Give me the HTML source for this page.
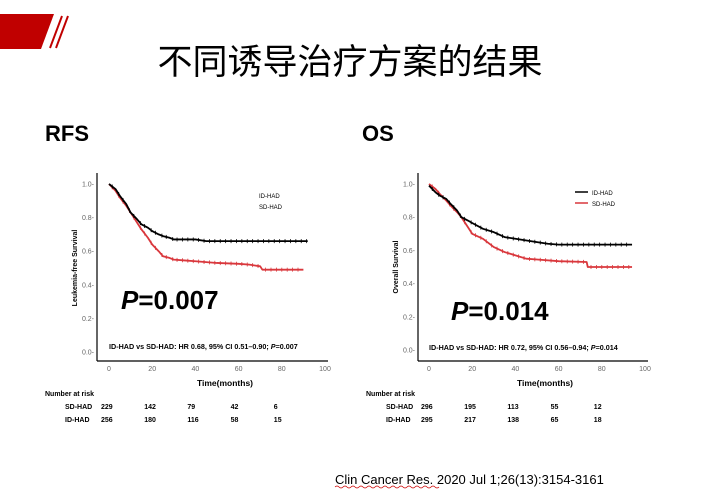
<!DOCTYPE html>
<html><head><meta charset="utf-8"><style>
html,body{margin:0;padding:0;background:#fff;}
svg{display:block;font-family:"Liberation Sans",Arial,sans-serif;}
</style></head><body>
<svg id="s" width="704" height="500" viewBox="0 0 704 500">
<polygon points="0,14 54,14 41,49 0,49" fill="#c00000"/>
<line x1="62" y1="16" x2="50" y2="48" stroke="#c00000" stroke-width="2"/>
<line x1="68" y1="16" x2="56" y2="48" stroke="#c00000" stroke-width="2"/>
<text x="350" y="74" text-anchor="middle" font-size="35" font-family="'Liberation Sans','Noto Sans CJK SC',sans-serif">不同诱导治疗方案的结果</text>
<text x="45" y="141" font-size="22" font-weight="bold">RFS</text>
<text x="362" y="141" font-size="22" font-weight="bold">OS</text>
<g id="g1"></g>
<g id="g2"></g>
<text x="335" y="484" font-size="13">Clin Cancer Res. 2020 Jul 1;26(13):3154-3161</text>
<path d="M335,487 q2,-2 4,0 t4,0 t4,0 t4,0 t4,0 t4,0 t4,0 t4,0 t4,0 t4,0 t4,0 t4,0 t4,0 t4,0 t4,0 t4,0 t4,0 t4,0 t4,0 t4,0 t4,0 t4,0 t4,0 t4,0 t4,0 t4,0" stroke="#c00" stroke-width="0.7" fill="none"/>
</svg>
<script>
const ticksX=[0,20,40,60,80,100];
const ticksY=[0,0.2,0.4,0.6,0.8,1.0];
const rfsIdT=[0,3,5,8,10,13,15,18,20,23,25,28,30,40,45,92];
const rfsIdV=[1.0,0.97,0.93,0.88,0.83,0.79,0.76,0.74,0.72,0.70,0.69,0.68,0.67,0.67,0.66,0.66];
const rfsSdT=[0,3,5,8,10,13,15,18,20,23,25,28,30,35,40,50,60,65,70,71,90];
const rfsSdV=[1.0,0.96,0.92,0.87,0.83,0.77,0.73,0.68,0.64,0.60,0.57,0.56,0.55,0.545,0.54,0.53,0.525,0.52,0.51,0.49,0.49];
const osIdT=[0,3,5,8,10,13,15,18,20,25,30,35,40,50,55,60,94];
const osIdV=[0.99,0.95,0.93,0.91,0.88,0.84,0.80,0.78,0.765,0.73,0.71,0.68,0.67,0.65,0.64,0.635,0.635];
const osSdT=[0,3,5,8,10,13,15,18,20,25,30,35,40,45,50,60,73,73.5,94];
const osSdV=[1.0,0.97,0.94,0.90,0.87,0.83,0.80,0.74,0.70,0.67,0.62,0.59,0.57,0.55,0.545,0.535,0.53,0.5,0.5];
const riskRfsSd=[229,142,79,42,6];
const riskRfsId=[256,180,116,58,15];
const riskOsSd=[296,195,113,55,12];
const riskOsId=[295,217,138,65,18];
const NS="http://www.w3.org/2000/svg";
function mk(g,tag,a,txt){const e=document.createElementNS(NS,tag);for(const k in a)e.setAttribute(k,a[k]);if(txt!==undefined)e.textContent=txt;g.appendChild(e);return e;}
function chart(gid,c){
 const g=document.getElementById(gid);
 const sx=t=>c.x0+t*(c.x100-c.x0)/100, sy=v=>c.y0-v*(c.y0-c.y1);
 let e=mk(g,'line',{x1:c.ax,y1:173,x2:c.ax,y2:c.axb,stroke:'#000','stroke-width':1.2});
 
 e=mk(g,'line',{x1:c.ax,y1:c.axb,x2:c.x100+3,y2:c.axb,stroke:'#000','stroke-width':1.2});
 
 ticksY.forEach(v=>{
  e=mk(g,'text',{x:c.ax-3,y:sy(v)+2.5,'font-size':7,fill:'#666','text-anchor':'end'},v.toFixed(1)+'-');
  
 });
 ticksX.forEach(t=>{
  e=mk(g,'text',{x:sx(t),y:c.axb+10,'font-size':7,fill:'#666','text-anchor':'middle'},String(t));
  
 });
 e=mk(g,'text',{x:0,y:0,'font-size':7,'font-weight':'bold','text-anchor':'middle',transform:`translate(${c.ax-20},${(c.y0+c.y1)/2}) rotate(-90)`},c.ylab);
 
 e=mk(g,'text',{x:(c.x0+c.x100)/2+8,y:c.axb+25,'font-size':8.5,'font-weight':'bold','text-anchor':'middle'},'Time(months)');
 
 function curve(T,V,col,nm){
  let d='M'+sx(T[0])+','+sy(V[0]);
  for(let i=1;i<T.length;i++){d+=' L'+sx(T[i])+','+sy(V[i]);}
  const p=mk(g,'path',{d:d,fill:'none',stroke:col,'stroke-width':1.8,'stroke-linejoin':'round'});
  
  for(let i=1;i<T.length;i++){const a=T[i-1],b=T[i];for(let t=a+1.5;t<b;t+=2.5){
   const v=V[i-1]+(V[i]-V[i-1])*(t-a)/(b-a);
   const k=mk(g,'line',{x1:sx(t),x2:sx(t),y1:sy(v)-2,y2:sy(v)+2,stroke:col,'stroke-width':0.8});
   }}
 }
 curve(c.sdT,c.sdV,'#d9373c','sd-had-curve');
 curve(c.idT,c.idV,'#000','id-had-curve');
 if(c.legLines){
  e=mk(g,'line',{x1:c.lx-17,x2:c.lx-4,y1:c.ly-3,y2:c.ly-3,stroke:'#000','stroke-width':1.5});
  e=mk(g,'line',{x1:c.lx-17,x2:c.lx-4,y1:c.ly+8,y2:c.ly+8,stroke:'#d9373c','stroke-width':1.5});
 }
 e=mk(g,'text',{x:c.lx,y:c.ly,'font-size':6},'ID-HAD');
 e=mk(g,'text',{x:c.lx,y:c.ly+11,'font-size':6},'SD-HAD');
 e=mk(g,'text',{x:c.px,y:c.py,'font-size':26,'font-weight':'bold'});
 e.innerHTML='<tspan font-style="italic">P</tspan>='+c.pv;
 
 e=mk(g,'text',{x:c.hx,y:c.hy,'font-size':7.2,'font-weight':'bold'});
 e.innerHTML=c.hr+'; <tspan font-style="italic">P</tspan>='+c.pv;
 
 e=mk(g,'text',{x:c.rx,y:396,'font-size':7,'font-weight':'bold'},'Number at risk');
 
 [['SD-HAD',c.rSd,409],['ID-HAD',c.rId,422]].forEach(([n,arr,y])=>{
  e=mk(g,'text',{x:c.rx+20,y:y,'font-size':7,'font-weight':'bold'},n);
  
  arr.forEach((v,i)=>{e=mk(g,'text',{x:sx(i*20)-8,y:y,'font-size':7,'font-weight':'bold'},String(v));
   });
 });
}
chart('g1',{ax:97,axb:361,x0:109,x100:325,y0:352,y1:184,ylab:'Leukemia-free Survival',
 idT:rfsIdT,idV:rfsIdV,sdT:rfsSdT,sdV:rfsSdV,lx:259,ly:198,legLines:false,
 px:121,py:309,pv:'0.007',hx:109,hy:349,hr:'ID-HAD vs SD-HAD: HR 0.68, 95% CI 0.51–0.90',
 rx:45,rSd:riskRfsSd,rId:riskRfsId});
chart('g2',{ax:418,axb:361,x0:429,x100:645,y0:350,y1:184,ylab:'Overall Survival',
 idT:osIdT,idV:osIdV,sdT:osSdT,sdV:osSdV,lx:592,ly:195,legLines:true,
 px:451,py:320,pv:'0.014',hx:429,hy:350,hr:'ID-HAD vs SD-HAD: HR 0.72, 95% CI 0.56–0.94',
 rx:366,rSd:riskOsSd,rId:riskOsId});
</script>
</body></html>
